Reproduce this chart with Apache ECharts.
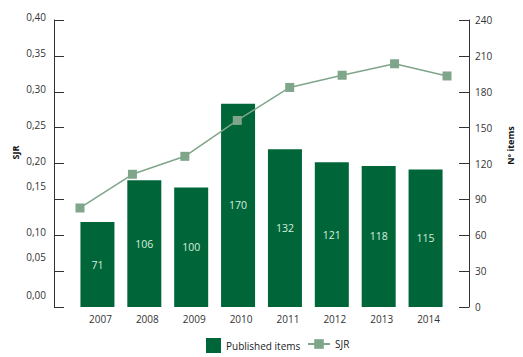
<!DOCTYPE html>
<html>
<head>
<meta charset="utf-8">
<script src="https://cdn.jsdelivr.net/npm/echarts@6/dist/echarts.min.js"></script>
<style>html,body{margin:0;padding:0;background:#fff}#c{width:523px;height:357px}</style>
</head>
<body>
<div id="c"></div>
<script>
const years = ['2007','2008','2009','2010','2011','2012','2013','2014'];
const publishedItems = [71, 106, 100, 170, 132, 121, 118, 115];
const sjr = [0.138, 0.185, 0.21, 0.26, 0.306, 0.323, 0.339, 0.322];
const sjrAxis = {min: 0, max: 0.4, interval: 0.05};
const itemsAxis = {min: 0, max: 240, interval: 30};

const FONT = '"Open Sans", "Noto Sans", sans-serif';
const TXT = '#333';
// upward shift (px) of each SJR tick label as seen in the reference
const labelShift = {0: 12, 5: 14, 10: 3, 15: 13, 20: 3, 25: 3, 30: 3, 35: 3, 40: 3};

const chart = echarts.init(document.getElementById('c'), null, {renderer: 'svg'});
chart.setOption({
  animation: false,
  textStyle: {fontFamily: FONT},
  grid: [
    {left: 74, right: 70, top: 20, bottom: 50},
    {left: 80, right: 76, top: 20, bottom: 50}
  ],
  legend: [
    {data: [{name: 'Published items', icon: 'rect'}], left: 201, top: 333, itemWidth: 15, itemHeight: 15, itemGap: 5,
     textStyle: {fontSize: 10, color: '#222', fontFamily: FONT}},
    {data: ['SJR'], left: 302, top: 334, itemWidth: 22, itemHeight: 12,
     textStyle: {fontSize: 10, color: '#222', fontFamily: FONT}}
  ],
  xAxis: [
    {type: 'category', gridIndex: 0, data: years, boundaryGap: true,
     axisLine: {show: false}, axisTick: {show: false},
     axisLabel: {color: TXT, fontSize: 10, margin: 7, padding: [0, 0, 0, 6], fontFamily: FONT}},
    {type: 'category', gridIndex: 1, data: years, boundaryGap: false, show: false}
  ],
  yAxis: [
    {type: 'value', gridIndex: 1, position: 'left', offset: 26,
     min: sjrAxis.min, max: sjrAxis.max, interval: sjrAxis.interval,
     name: 'SJR', nameLocation: 'middle', nameGap: 34, nameRotate: 90, nameMoveOverlap: false,
     nameTextStyle: {fontSize: 9, fontWeight: 'bold', color: '#111', padding: [0, 0, 0, 22]},
     splitLine: {show: false},
     axisLine: {show: true, lineStyle: {color: '#333', width: 1}},
     axisTick: {show: true, inside: true, length: 10, lineStyle: {color: '#333'}},
     axisLabel: {color: TXT, fontSize: 10, margin: 8, fontFamily: FONT,
       formatter: function (v) {
         const k = Math.round(v * 100);
         const s = (labelShift[k] || 0) * 2;
         return '{s' + s + '|' + v.toFixed(2).replace('.', ',') + '}';
       },
       rich: (function () {
         const r = {};
         for (let s = 0; s <= 40; s += 2) r['s' + s] = {padding: [0, 0, s, 0], fontSize: 10, color: TXT, fontFamily: FONT};
         return r;
       })()
     }},
    {type: 'value', gridIndex: 0, position: 'right', offset: 20,
     min: itemsAxis.min, max: itemsAxis.max, interval: itemsAxis.interval,
     name: 'Nº items', nameLocation: 'middle', nameGap: 37, nameRotate: 90, nameMoveOverlap: false,
     nameTextStyle: {fontSize: 9, fontWeight: 'bold', color: '#111', padding: [0, 0, 0, 36]},
     splitLine: {show: false},
     axisLine: {show: true, lineStyle: {color: '#333', width: 1}},
     axisTick: {show: true, inside: true, length: 10, lineStyle: {color: '#333'}},
     axisLabel: {color: TXT, fontSize: 10, margin: 6, fontFamily: FONT}}
  ],
  series: [
    {name: 'Published items', type: 'bar', xAxisIndex: 0, yAxisIndex: 1, data: publishedItems,
     barWidth: 34, itemStyle: {color: '#00663a'},
     label: {show: true, position: 'inside', color: '#d6efdd', fontSize: 10.5, fontFamily: FONT}},
    {name: 'SJR', type: 'line', xAxisIndex: 1, yAxisIndex: 0, data: sjr, z: 5,
     symbol: 'rect', symbolSize: 9,
     lineStyle: {color: '#7fa58a', width: 1.5},
     itemStyle: {color: '#7fa58a'}}
  ]
});
</script>
</body>
</html>
